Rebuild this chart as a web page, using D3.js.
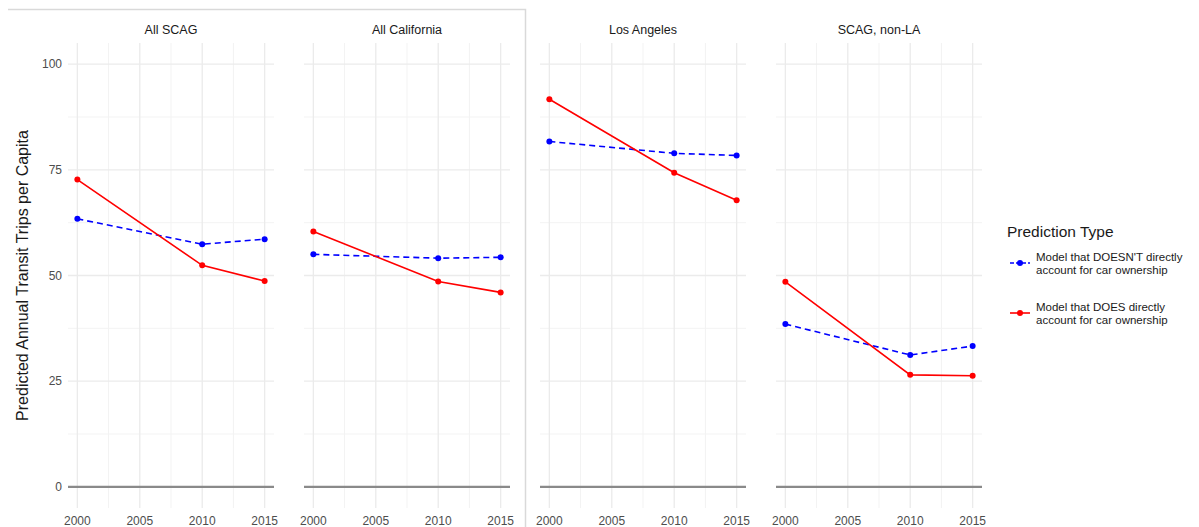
<!DOCTYPE html>
<html>
<head>
<meta charset="utf-8">
<script src="https://cdn.jsdelivr.net/npm/d3@7"></script>
<style>
  html, body { margin: 0; padding: 0; background: #fff; }
  svg { display: block; font-family: "Liberation Sans", Arial, sans-serif; }
</style>
</head>
<body>
<svg id="chart" width="1199" height="527"></svg>
<script>
// ---- data ----
const panels = ["All SCAG", "All California", "Los Angeles", "SCAG, non-LA"];
const years = [2000, 2010, 2015];
const xTicks = [2000, 2005, 2010, 2015];
const yTicks = [0, 25, 50, 75, 100];
const seriesNames = ["Model that DOESN'T directly account for car ownership",
                     "Model that DOES directly account for car ownership"];
// DOESN'T (blue, dashed)
const withoutCars = [
  [63.4, 57.4, 58.6],
  [55.0, 54.1, 54.3],
  [81.7, 78.9, 78.4],
  [38.5, 31.2, 33.3]
];
// DOES (red, solid)
const withCars = [
  [72.7, 52.4, 48.7],
  [60.4, 48.6, 46.0],
  [91.7, 74.3, 67.8],
  [48.5, 26.5, 26.3]
];

// ---- layout ----
const svg = d3.select("#chart");
const panelLeft0 = 68, panelW = 206, panelGap = 30;
const plotTop = 43, plotBottom = 508;
const y = d3.scaleLinear().domain([-5, 105]).range([plotBottom, plotTop]);

const colors = ["#0000FF", "#FF0000"];
const dashes = ["6,4", null];

// frame artifact
svg.append("path").attr("d", "M8,9.5H525.5V527")
  .attr("fill", "none").attr("stroke", "#d9d9d9").attr("stroke-width", 1.5);

panels.forEach((name, i) => {
  const x0 = panelLeft0 + i * (panelW + panelGap);
  const x = d3.scaleLinear().domain([1999.25, 2015.75]).range([x0, x0 + panelW]);
  const g = svg.append("g");

  // minor grid
  const xMinor = [2002.5, 2007.5, 2012.5];
  const yMinor = [12.5, 37.5, 62.5, 87.5];
  g.selectAll(".xm").data(xMinor).join("line")
    .attr("x1", d => x(d)).attr("x2", d => x(d)).attr("y1", plotTop).attr("y2", plotBottom)
    .attr("stroke", "#f3f3f3").attr("stroke-width", 1);
  g.selectAll(".ym").data(yMinor).join("line")
    .attr("x1", x0).attr("x2", x0 + panelW).attr("y1", d => y(d)).attr("y2", d => y(d))
    .attr("stroke", "#f3f3f3").attr("stroke-width", 1);
  // major grid
  g.selectAll(".xM").data(xTicks).join("line")
    .attr("x1", d => x(d)).attr("x2", d => x(d)).attr("y1", plotTop).attr("y2", plotBottom)
    .attr("stroke", "#ebebeb").attr("stroke-width", 1.3);
  g.selectAll(".yM").data(yTicks).join("line")
    .attr("x1", x0).attr("x2", x0 + panelW).attr("y1", d => y(d)).attr("y2", d => y(d))
    .attr("stroke", "#ebebeb").attr("stroke-width", 1.3);

  // zero line
  g.append("line").attr("x1", x0).attr("x2", x0 + panelW)
    .attr("y1", y(0)).attr("y2", y(0))
    .attr("stroke", "#8a8a8a").attr("stroke-width", 2.2);

  // strip title
  g.append("text").attr("x", x0 + panelW / 2).attr("y", 34)
    .attr("text-anchor", "middle").attr("font-size", 12.5).attr("fill", "#1a1a1a")
    .text(name);

  // x tick labels
  g.selectAll(".xl").data(xTicks).join("text")
    .attr("x", d => x(d)).attr("y", 525)
    .attr("text-anchor", "middle").attr("font-size", 12).attr("fill", "#4d4d4d")
    .text(d => d);

  // series
  [withoutCars[i], withCars[i]].forEach((vals, s) => {
    const pts = years.map((yr, k) => [yr, vals[k]]);
    g.append("path").datum(pts)
      .attr("d", d3.line().x(d => x(d[0])).y(d => y(d[1])))
      .attr("fill", "none").attr("stroke", colors[s]).attr("stroke-width", 1.6)
      .attr("stroke-dasharray", dashes[s]);
    g.selectAll(null).data(pts).join("circle")
      .attr("cx", d => x(d[0])).attr("cy", d => y(d[1])).attr("r", 3)
      .attr("fill", colors[s]);
  });
});

// y tick labels (first panel only)
svg.selectAll(".yl").data(yTicks).join("text")
  .attr("x", 62).attr("y", d => y(d)).attr("dy", "0.35em")
  .attr("text-anchor", "end").attr("font-size", 12).attr("fill", "#4d4d4d")
  .text(d => d);

// y axis title
svg.append("text")
  .attr("transform", `translate(28,${y(50)}) rotate(-90)`)
  .attr("text-anchor", "middle").attr("font-size", 16).attr("fill", "#1a1a1a")
  .text("Predicted Annual Transit Trips per Capita");

// legend
const lg = svg.append("g");
lg.append("text").attr("x", 1007).attr("y", 237).attr("font-size", 15.5).attr("fill", "#1a1a1a")
  .text("Prediction Type");
const legendRows = [
  { lines: ["Model that DOESN'T directly", "account for car ownership"], cy: 263 },
  { lines: ["Model that DOES directly", "account for car ownership"], cy: 313 }
];
legendRows.forEach((r, s) => {
  lg.append("line").attr("x1", 1010).attr("x2", 1030).attr("y1", r.cy).attr("y2", r.cy)
    .attr("stroke", colors[s]).attr("stroke-width", 1.6).attr("stroke-dasharray", s === 0 ? "4,2" : null);
  lg.append("circle").attr("cx", 1020).attr("cy", r.cy).attr("r", 3).attr("fill", colors[s]);
  r.lines.forEach((t, k) => {
    lg.append("text").attr("x", 1036).attr("y", r.cy - 6.5 + k * 13).attr("dy", "0.35em")
      .attr("font-size", 11.5).attr("fill", "#1a1a1a").text(t);
  });
});
</script>
</body>
</html>
